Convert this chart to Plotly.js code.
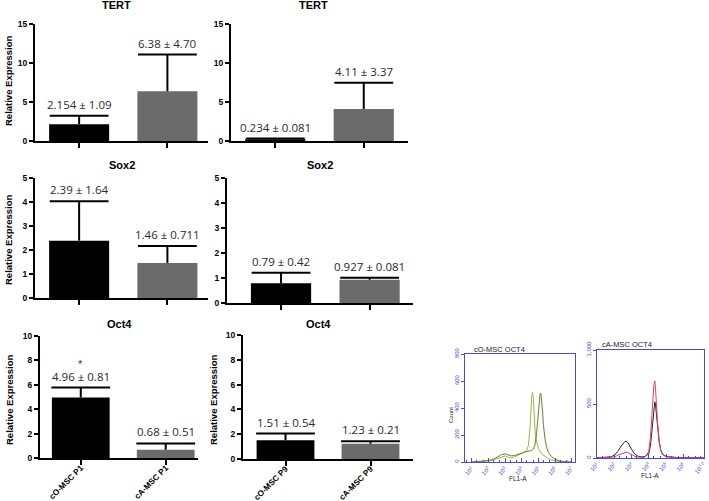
<!DOCTYPE html>
<html>
<head>
<meta charset="utf-8">
<script src="https://cdn.plot.ly/plotly-3.0.1.min.js"></script>
<style>html,body{margin:0;padding:0;background:#fff;}#chart{width:709px;height:501px;}</style>
</head>
<body>
<div id="chart"></div>
<script>
// ---------- data ----------
const catsP1 = ['cO-MSC P1', 'cA-MSC P1'];
const catsP9 = ['cO-MSC P9', 'cA-MSC P9'];
const barColors = ['#000000', '#6b6b6b'];

const tertP1Mean = [2.154, 6.38];
const tertP1Sd   = [1.09, 4.70];
const tertP1Text = ['2.154 ± 1.09', '6.38 ± 4.70'];
const tertP9Mean = [0.234, 4.11];
const tertP9Sd   = [0.081, 3.37];
const tertP9Text = ['0.234 ± 0.081', '4.11 ± 3.37'];

const sox2P1Mean = [2.39, 1.46];
const sox2P1Sd   = [1.64, 0.711];
const sox2P1Text = ['2.39 ± 1.64', '1.46 ± 0.711'];
const sox2P9Mean = [0.79, 0.927];
const sox2P9Sd   = [0.42, 0.081];
const sox2P9Text = ['0.79 ± 0.42', '0.927 ± 0.081'];

const oct4P1Mean = [4.96, 0.68];
const oct4P1Sd   = [0.81, 0.51];
const oct4P1Text = ['4.96 ± 0.81', '0.68 ± 0.51'];
const oct4P9Mean = [1.51, 1.23];
const oct4P9Sd   = [0.54, 0.21];
const oct4P9Text = ['1.51 ± 0.54', '1.23 ± 0.21'];
const noUpperExtra = [0, 0];

// flow cytometry histograms (x in log10 decades of FL1-A, y = count)
const cOLightExp = [1.0,1.5,2.0,2.3,2.6,2.8,3.0,3.2,3.4,3.6,3.8,4.0,4.2,4.3,4.4,4.5,4.55,4.6,4.65,4.7,4.75,4.8,4.9,5.0,5.2,5.4,5.6,5.8,6.0,6.3,6.6,7.0];
const cOLightCnt = [0,2,8,15,30,40,45,35,30,40,50,60,75,88,120,250,380,480,515,470,360,240,150,100,60,40,25,15,8,3,1,0];
const cODarkExp  = [1.0,1.5,2.0,2.3,2.6,2.8,3.0,3.2,3.4,3.6,3.8,4.0,4.2,4.4,4.6,4.7,4.8,4.9,5.0,5.05,5.1,5.15,5.2,5.25,5.3,5.4,5.5,5.6,5.8,6.0,6.3,6.6,7.0];
const cODarkCnt  = [0,3,10,20,40,55,60,50,45,50,55,65,75,80,85,95,130,220,350,440,500,510,460,380,280,170,110,70,40,20,8,2,0];
const cAExp      = [1.0,1.5,1.8,2.0,2.2,2.4,2.6,2.7,2.8,3.0,3.2,3.4,3.6,3.8,4.0,4.1,4.2,4.3,4.35,4.4,4.5,4.6,4.7,4.8,5.0,5.3,5.6,6.0,6.5,7.2];
const cABlackCnt = [2,5,10,25,60,110,150,157,140,80,35,15,10,15,40,120,300,470,520,480,300,150,70,35,15,8,5,3,2,1];
const cARedCnt   = [1,3,5,10,25,40,52,55,50,35,15,8,6,12,60,200,450,680,713,620,350,160,70,30,12,6,3,2,1,0];

const flowTickExpL  = [1, 2, 3, 4, 5, 6, 7];
const flowTickTextL = ['10<sup>1</sup>','10<sup>2</sup>','10<sup>3</sup>','10<sup>4</sup>','10<sup>5</sup>','10<sup>6</sup>','10<sup>7</sup>'];
const flowTickExpR  = [1, 2, 3, 4, 5, 6, 7.2];
const flowTickTextR = ['10<sup>1</sup>','10<sup>2</sup>','10<sup>3</sup>','10<sup>4</sup>','10<sup>5</sup>','10<sup>6</sup>','10<sup>7.2</sup>'];

// ---------- layout helpers ----------
const W = 709, H = 501;
const px = v => v / W;
const py = v => 1 - v / H;
const AX = 'Arial, "Liberation Sans", sans-serif';

const panels = [
  {title:'TERT', cats:catsP1, mean:tertP1Mean, sd:tertP1Sd, txt:tertP1Text, x:[35,208], y:[24,141], xr:[-0.5,1.46], yr:[0,15], dt:5, lab:false, ttl:[116,5], yt:[8,81]},
  {title:'TERT', cats:catsP9, mean:tertP9Mean, sd:tertP9Sd, txt:tertP9Text, x:[231,408], y:[24,141], xr:[-0.5,1.5], yr:[0,15], dt:5, lab:false, ttl:[313,5], yt:null},
  {title:'Sox2', cats:catsP1, mean:sox2P1Mean, sd:sox2P1Sd, txt:sox2P1Text, x:[35,208], y:[178,298], xr:[-0.5,1.46], yr:[0,5], dt:1, lab:false, ttl:[122,165], yt:[8,240]},
  {title:'Sox2', cats:catsP9, mean:sox2P9Mean, sd:sox2P9Sd, txt:sox2P9Text, x:[227,413], y:[178,303], xr:[-0.61,1.49], yr:[0,5], dt:1, lab:false, ttl:[320,165], yt:null},
  {title:'Oct4', cats:catsP1, mean:oct4P1Mean, sd:oct4P1Sd, txt:oct4P1Text, x:[40,198], y:[336,458], xr:[-0.48,1.38], yr:[0,10], dt:2, lab:true, ttl:[120,324], yt:[9,400]},
  {title:'Oct4', cats:catsP9, mean:oct4P9Mean, sd:oct4P9Sd, txt:oct4P9Text, x:[243,413], y:[335,459], xr:[-0.5,1.5], yr:[0,10], dt:2, lab:true, ttl:[318,324], yt:[213,400]}
];

const data = [];
const layout = {
  width: W, height: H,
  margin: {l:0, r:0, t:0, b:0},
  paper_bgcolor: '#fff', plot_bgcolor: 'rgba(0,0,0,0)',
  showlegend: false,
  annotations: []
};

panels.forEach((p, i) => {
  const n = i + 1;
  const sfx = (n === 1 ? '' : String(n));
  const xa = 'x' + sfx, ya = 'y' + sfx;
  const tops = p.mean.map((m, j) => m + p.sd[j]);
  data.push({
    type: 'bar', x: p.cats, y: p.mean, xaxis: xa, yaxis: ya,
    width: 0.68,
    marker: {color: barColors, line: {width: 0}},
    hoverinfo: 'none'
  });
  // upper-only SD whisker: cap marker at mean+sd, stem down to the mean
  data.push({
    type: 'scatter', mode: 'markers', x: p.cats, y: tops, xaxis: xa, yaxis: ya,
    marker: {symbol: 'line-ew', size: 42, color: '#000', line: {color: '#000', width: 2}},
    error_y: {type: 'data', symmetric: false, array: noUpperExtra, arrayminus: p.sd, color: '#000', thickness: 2, width: 0},
    hoverinfo: 'none'
  });
  layout['xaxis' + sfx] = {
    domain: [px(p.x[0]), px(p.x[1])], anchor: ya, type: 'category',
    range: p.xr, showgrid: false, zeroline: false,
    showline: true, linecolor: '#000', linewidth: 2,
    ticks: 'outside', ticklen: 5, tickwidth: 2, tickcolor: '#000',
    showticklabels: p.lab, tickangle: -45, ticklabelstandoff: -5,
    tickfont: {family: AX, size: 8.2, color: '#000', weight: 'bold'}
  };
  layout['yaxis' + sfx] = {
    domain: [py(p.y[1]), py(p.y[0])], anchor: xa,
    range: p.yr, dtick: p.dt, tick0: 0, showgrid: false, zeroline: false,
    showline: true, linecolor: '#000', linewidth: 2,
    ticks: 'outside', ticklen: 4, tickwidth: 2, tickcolor: '#000',
    tickfont: {family: AX, size: 8.5, color: '#000', weight: 'bold'}
  };
  // value labels over the whiskers
  p.cats.forEach((c, j) => {
    layout.annotations.push({
      xref: xa, yref: ya, x: c, y: tops[j],
      text: p.txt[j], showarrow: false, yanchor: 'bottom', yshift: 2,
      font: {family: '"Open Sans", sans-serif', size: 11.5, color: '#2a2a2a'}
    });
  });
  // panel title
  layout.annotations.push({
    xref: 'paper', yref: 'paper', x: px(p.ttl[0]), y: py(p.ttl[1]),
    text: '<b>' + p.title + '</b>', showarrow: false, xanchor: 'center', yanchor: 'middle',
    font: {family: AX, size: 11, color: '#000'}
  });
  if (p.yt) {
    layout.annotations.push({
      xref: 'paper', yref: 'paper', x: px(p.yt[0]), y: py(p.yt[1]),
      text: '<b>Relative Expression</b>', showarrow: false, textangle: -90,
      xanchor: 'center', yanchor: 'middle',
      font: {family: AX, size: 9.5, color: '#000'}
    });
  }
});

// significance star on Oct4 P1
layout.annotations.push({
  xref: 'x5', yref: 'y5', x: catsP1[0], y: oct4P1Mean[0] + oct4P1Sd[0],
  text: '*', showarrow: false, yanchor: 'bottom', yshift: 16,
  font: {family: AX, size: 11, color: '#333'}
});

// ---------- flow cytometry panels ----------
const toVal = arr => arr.map(e => Math.pow(10, e));
const BLUE = '#4a4ad8';
data.push({type:'scatter', mode:'lines', x: toVal(cOLightExp), y: cOLightCnt, xaxis:'x7', yaxis:'y7', line:{color:'#8fbf3a', width:1}, hoverinfo:'none'});
data.push({type:'scatter', mode:'lines', x: toVal(cODarkExp), y: cODarkCnt, xaxis:'x7', yaxis:'y7', line:{color:'#6f7f2a', width:1}, hoverinfo:'none'});
data.push({type:'scatter', mode:'lines', x: toVal(cAExp), y: cABlackCnt, xaxis:'x8', yaxis:'y8', line:{color:'#222222', width:1}, hoverinfo:'none'});
data.push({type:'scatter', mode:'lines', x: toVal(cAExp), y: cARedCnt, xaxis:'x8', yaxis:'y8', line:{color:'#e8405a', width:1}, hoverinfo:'none'});

const flowX = (dom, rng, vals, txt) => ({
  domain: dom, type: 'log', range: rng, showgrid: false, zeroline: false,
  showline: true, mirror: true, linecolor: BLUE, linewidth: 1,
  tickvals: vals, ticktext: txt, ticks: 'inside', ticklen: 4, tickcolor: BLUE,
  minor: {ticks: 'inside', ticklen: 2, tickcolor: BLUE},
  tickangle: -45, tickfont: {family: AX, size: 6, color: BLUE}
});
const flowY = (dom, rng, vals, txt) => ({
  domain: dom, range: rng, showgrid: false, zeroline: false,
  showline: true, mirror: true, linecolor: BLUE, linewidth: 1,
  tickvals: vals, ticktext: txt, ticks: 'outside', ticklen: 3, tickcolor: BLUE,
  tickangle: -90, tickfont: {family: AX, size: 6, color: BLUE}
});
layout.xaxis7 = Object.assign(flowX([px(465), px(575)], [0.6, 7.2], toVal(flowTickExpL), flowTickTextL), {anchor: 'y7'});
layout.yaxis7 = Object.assign(flowY([py(462), py(354)], [0, 800], [0,200,400,600,800], ['0','200','400','600','800']), {anchor: 'x7'});
layout.xaxis8 = Object.assign(flowX([px(597), px(704)], [1, 7.2], toVal(flowTickExpR), flowTickTextR), {anchor: 'y8'});
layout.yaxis8 = Object.assign(flowY([py(458), py(350)], [0, 1000], [0,500,1000], ['0','500','1,000']), {anchor: 'x8'});

const small = (x, y, t, opts) => Object.assign({
  xref: 'paper', yref: 'paper', x: px(x), y: py(y), text: t, showarrow: false,
  xanchor: 'center', yanchor: 'middle', font: {family: AX, size: 7.5, color: '#222'}
}, opts || {});
layout.annotations.push(small(472, 349, 'cO-MSC OCT4', {xanchor: 'left'}));
layout.annotations.push(small(600, 344, 'cA-MSC OCT4', {xanchor: 'left'}));
layout.annotations.push(small(451, 415, 'Count', {textangle: -90, font: {family: AX, size: 6, color: '#222'}}));
layout.annotations.push(small(518, 478, 'FL1-A', {font: {family: AX, size: 6.5, color: '#222'}}));
layout.annotations.push(small(650, 475, 'FL1-A', {font: {family: AX, size: 6.5, color: '#222'}}));

Plotly.newPlot('chart', data, layout, {displayModeBar: false, staticPlot: true});
</script>
</body>
</html>
